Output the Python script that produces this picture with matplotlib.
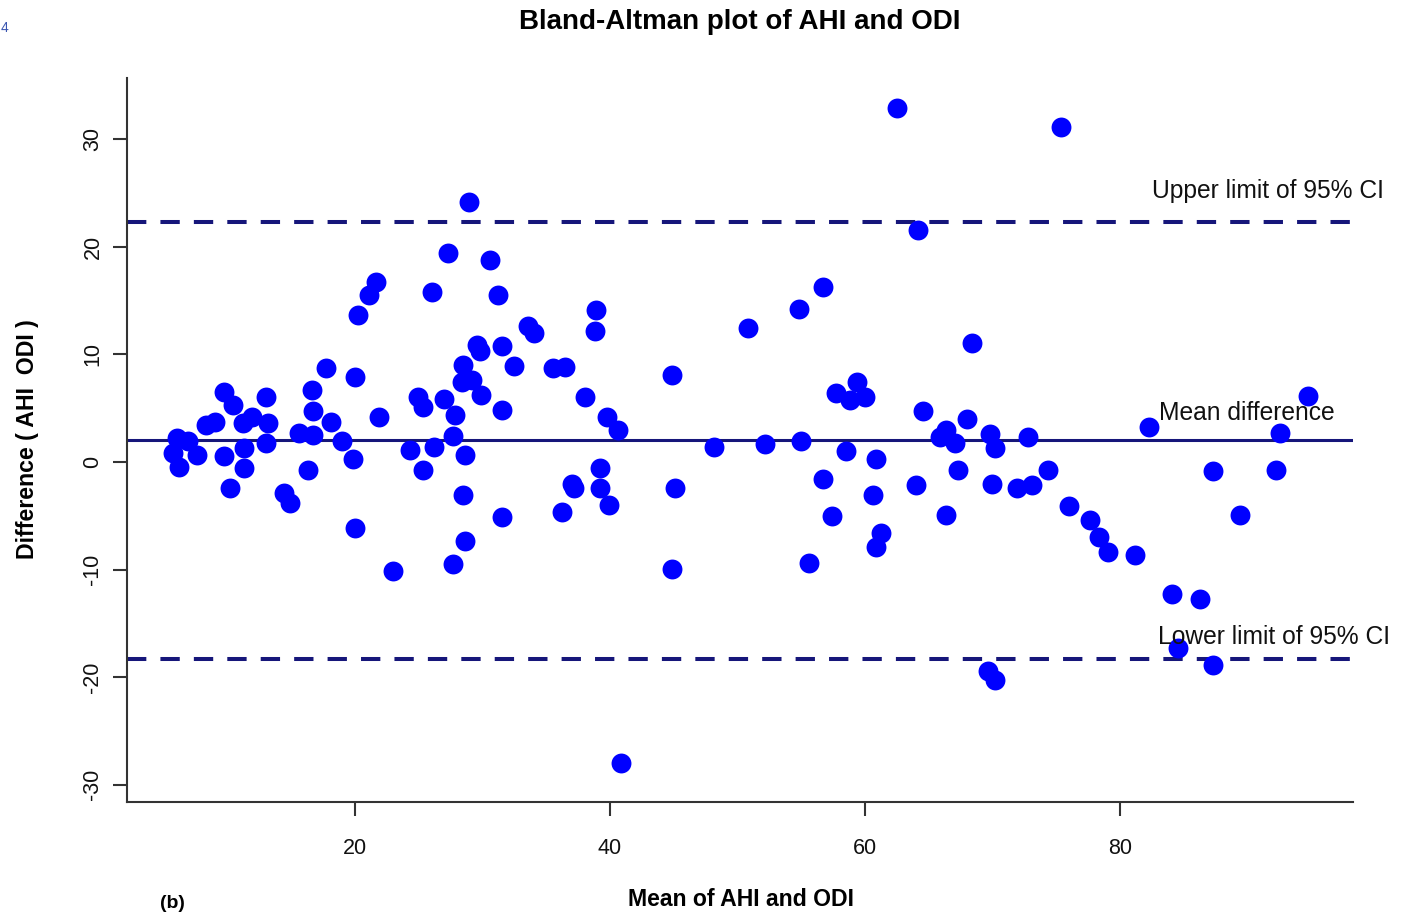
import matplotlib.pyplot as plt

plt.rcParams["font.family"] = ["Liberation Sans", "DejaVu Sans"]

# Mean of the two indices per subject, and AHI - ODI difference
mean_ahi_odi = [
    6.0, 6.9, 5.7, 6.2, 7.6, 8.3, 9.0, 9.7, 9.7, 10.2,
    10.4, 11.2, 11.3, 11.3, 11.9, 13.0, 13.0, 13.2, 14.4, 14.9,
    15.6, 16.3, 16.6, 16.7, 16.7, 17.7, 18.1, 19.0, 19.8, 20.0,
    20.0, 20.2, 21.1, 21.6, 21.9, 23.0, 24.3, 24.9, 25.3, 25.3,
    26.0, 26.2, 27.0, 27.3, 27.7, 27.8, 27.7, 28.4, 28.5, 28.5,
    28.6, 28.6, 28.9, 29.2, 29.6, 29.8, 29.9, 30.6, 31.2, 31.5,
    31.5, 31.5, 32.5, 33.6, 34.0, 35.5, 36.5, 36.2, 37.0, 37.2,
    38.0, 38.9, 38.8, 39.2, 39.2, 39.8, 39.9, 40.6, 40.9, 44.9,
    44.9, 45.1, 48.2, 50.8, 52.2, 54.8, 55.0, 55.6, 56.7, 56.7,
    57.4, 57.7, 58.5, 58.8, 59.4, 60.0, 60.6, 60.9, 60.9, 61.3,
    62.5, 64.0, 64.2, 64.6, 65.9, 66.4, 66.4, 67.1, 67.3, 68.0,
    68.4, 69.7, 69.8, 70.0, 70.2, 70.2, 71.9, 72.8, 73.1, 74.4,
    75.4, 76.0, 77.7, 78.4, 79.1, 81.2, 82.3, 84.1, 84.6, 86.3,
    87.3, 87.3, 89.4, 92.3, 92.6, 94.8,
]
diff_ahi_odi = [
    2.2, 2.0, 0.8, -0.5, 0.7, 3.4, 3.7, 6.5, 0.6, -2.4,
    5.3, 3.6, 1.3, -0.6, 4.2, 6.0, 1.8, 3.6, -2.9, -3.8,
    2.7, -0.7, 6.7, 4.7, 2.5, 8.7, 3.7, 2.0, 0.3, 7.9,
    -6.1, 13.7, 15.5, 16.7, 4.2, -10.1, 1.1, 6.0, 5.1, -0.7,
    15.8, 1.4, 5.9, 19.4, 2.4, 4.4, -9.5, 7.4, 9.0, -3.1,
    0.7, -7.3, 24.2, 7.6, 10.9, 10.3, 6.2, 18.8, 15.5, 10.8,
    4.8, -5.1, 8.9, 12.6, 12.0, 8.7, 8.8, -4.6, -2.0, -2.4,
    6.0, 14.1, 12.2, -0.6, -2.4, 4.2, -4.0, 3.0, -28.0, 8.1,
    -9.9, -2.4, 1.4, 12.5, 1.7, 14.2, 2.0, -9.4, 16.3, -1.6,
    -5.0, 6.4, 1.0, 5.8, 7.4, 6.0, -3.1, 0.3, -7.9, -6.6,
    32.9, -2.1, 21.6, 4.7, 2.3, 3.0, -4.9, 1.8, -0.7, 4.0,
    11.1, -19.4, 2.6, -2.0, 1.3, -20.3, -2.4, 2.3, -2.1, -0.7,
    31.1, -4.1, -5.4, -7.0, -8.4, -8.6, 3.3, -12.3, -17.3, -12.7,
    -0.8, -18.9, -4.9, -0.7, 2.7, 6.1,
]

mean_diff = 2.05
upper_loa = 22.35
lower_loa = -18.3

x_ticks = [20, 40, 60, 80]
y_ticks = [-30, -20, -10, 0, 10, 20, 30]

line_col = "#16167a"
axis_col = "#333333"

fig = plt.figure(figsize=(14.08, 9.15), dpi=100)
ax = fig.add_axes([0.0902, 0.1235, 0.8707, 0.7913])

ax.scatter(mean_ahi_odi, diff_ahi_odi, s=205, c="#0000ff",
           linewidths=0, zorder=3)

# mean difference and limits of agreement
ax.axhline(mean_diff, color=line_col, lw=2.2, zorder=2)
for lim in (upper_loa, lower_loa):
    ax.axhline(lim, color=line_col, lw=2.9, dashes=(4.8, 3.5), zorder=2)

txt = dict(fontsize=17.7, ha="left", va="baseline", color="#111111", zorder=4)
ax.text(82.5, 24.55, "Upper limit of 95% CI", **txt)
ax.text(83.1, 3.9, "Mean difference", **txt)
ax.text(83.0, -16.9, "Lower limit of 95% CI", **txt)

ax.set_xlim(2.1, 98.3)
ax.set_ylim(-31.6, 35.7)
ax.set_xticks(x_ticks)
ax.set_yticks(y_ticks)
ax.set_yticklabels([str(v) for v in y_ticks], rotation=90, va="center")

for side in ("top", "right"):
    ax.spines[side].set_visible(False)
for side in ("left", "bottom"):
    ax.spines[side].set_color(axis_col)
    ax.spines[side].set_linewidth(1.5)

ax.tick_params(axis="both", length=10, width=1.5, color=axis_col,
               labelsize=15.5, labelcolor="#111111")
ax.tick_params(axis="x", pad=16)
ax.tick_params(axis="y", pad=7)

fig.text(740 / 1408, 1 - 22 / 915, "Bland-Altman plot of AHI and ODI",
         fontsize=20, fontweight="bold", ha="center", va="center")
fig.text(741 / 1408, 1 - 900 / 915, "Mean of AHI and ODI",
         fontsize=16.6, fontweight="bold", ha="center", va="center")
fig.text(28 / 1408, 1 - 439 / 915, "Difference ( AHI  ODI )",
         fontsize=16.7, fontweight="bold", ha="center", va="center",
         rotation=90)

# page furniture around the panel
fig.text(1 / 1408, 1 - 28 / 915, "4", fontsize=10, color="#3a55b0",
         ha="left", va="center")
fig.text(160 / 1408, 1 - 912 / 915, "(b)", fontsize=14, fontweight="bold",
         ha="left", va="bottom")

fig.savefig("out.png", dpi=100)
